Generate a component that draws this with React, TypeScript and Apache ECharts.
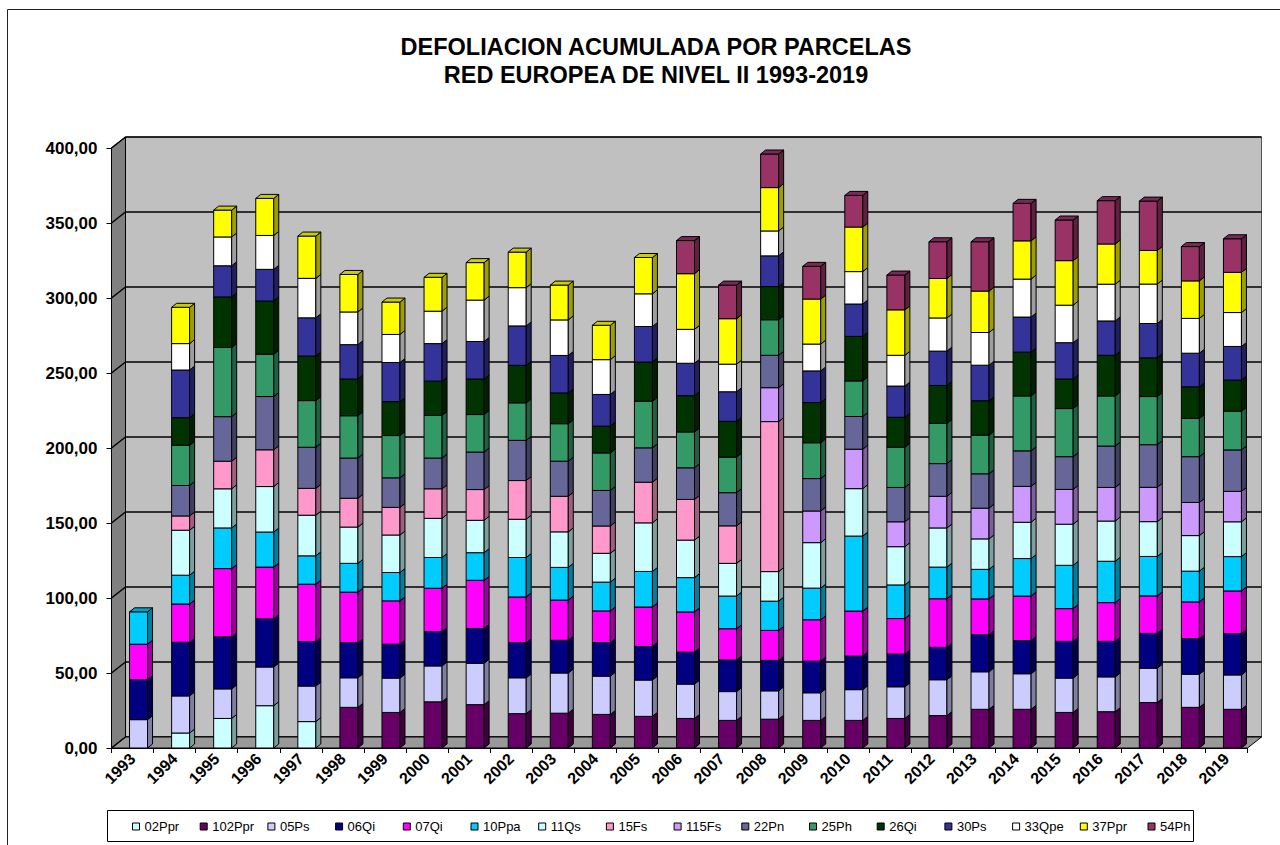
import React, { useEffect, useRef } from "react";
import * as echarts from "echarts";

const YEARS = ["1993","1994","1995","1996","1997","1998","1999","2000","2001","2002","2003","2004","2005","2006","2007","2008","2009","2010","2011","2012","2013","2014","2015","2016","2017","2018","2019"];
const Y_TICKS = [0, 50, 100, 150, 200, 250, 300, 350, 400];

const S_02Ppr = [0, 10.0, 19.7, 28.2, 17.6, 0, 0, 0, 0, 0, 0, 0, 0, 0, 0, 0, 0, 0, 0, 0, 0, 0, 0, 0, 0, 0, 0];
const S_102Ppr = [0, 0, 0, 0, 0, 27.1, 23.7, 30.8, 28.9, 22.9, 23.2, 22.4, 21.1, 19.7, 18.4, 19.2, 18.4, 18.4, 19.7, 21.6, 25.8, 25.8, 23.7, 24.2, 30.3, 27.1, 25.8];
const S_05Ps = [18.9, 24.7, 19.7, 25.8, 23.7, 19.7, 22.9, 23.9, 27.6, 23.9, 26.8, 25.5, 24.2, 22.9, 19.2, 18.9, 18.4, 20.5, 21.1, 23.9, 25.0, 23.7, 22.9, 23.2, 22.9, 22.1, 22.9];
const S_06Qi = [26.6, 35.8, 34.7, 32.1, 29.7, 23.4, 22.6, 22.9, 23.2, 23.4, 21.8, 22.4, 22.4, 21.3, 21.1, 20.3, 21.1, 22.4, 21.8, 21.6, 24.7, 22.1, 24.5, 23.7, 23.2, 23.7, 27.6];
const S_07Qi = [23.7, 25.5, 45.5, 34.5, 38.2, 33.7, 28.9, 28.9, 32.1, 30.5, 26.8, 21.1, 26.3, 26.8, 20.8, 20.0, 27.6, 30.0, 23.7, 32.4, 23.9, 29.7, 21.8, 25.8, 25.0, 24.5, 28.4];
const S_10Ppa = [21.6, 19.2, 27.1, 23.4, 18.9, 19.2, 18.9, 20.5, 18.4, 26.3, 21.8, 19.2, 23.7, 22.9, 21.8, 19.5, 21.1, 50.0, 22.4, 21.1, 19.7, 25.0, 28.9, 27.6, 26.3, 20.5, 22.9];
const S_11Qs = [0, 30.0, 26.1, 30.3, 27.1, 24.2, 25.0, 26.1, 21.6, 25.5, 23.7, 19.2, 32.4, 25.0, 21.8, 19.7, 30.3, 31.6, 25.5, 26.1, 20.3, 24.2, 27.4, 26.8, 23.2, 23.7, 23.2];
const S_15Fs = [0, 9.5, 18.4, 24.5, 17.9, 19.2, 18.4, 19.7, 20.5, 25.8, 23.7, 18.2, 27.1, 27.1, 25.0, 100.0, 0, 0, 0, 0, 0, 0, 0, 0, 0, 0, 0];
const S_115Fs = [0, 0, 0, 0, 0, 0, 0, 0, 0, 0, 0, 0, 0, 0, 0, 22.6, 21.1, 26.3, 16.6, 21.1, 20.5, 23.9, 23.2, 22.4, 22.9, 22.1, 20.3];
const S_22Pn = [0, 20.3, 29.7, 35.5, 27.4, 26.8, 19.7, 20.5, 25.0, 26.8, 23.4, 23.7, 22.9, 21.1, 22.1, 21.6, 21.6, 21.8, 22.9, 21.8, 22.9, 23.7, 21.8, 27.6, 28.4, 30.5, 27.6];
const S_25Ph = [0, 26.8, 46.1, 28.2, 31.1, 28.2, 28.2, 28.4, 25.0, 25.0, 25.0, 25.0, 31.1, 23.9, 23.7, 23.7, 23.9, 23.7, 26.8, 26.8, 25.8, 36.6, 32.1, 33.4, 32.1, 25.5, 25.8];
const S_26Qi = [0, 18.4, 33.7, 35.5, 29.7, 24.5, 22.6, 22.9, 23.7, 25.0, 20.5, 17.9, 26.1, 24.2, 23.9, 22.1, 26.8, 29.7, 20.0, 25.3, 22.9, 29.2, 19.7, 27.1, 25.8, 21.1, 20.8];
const S_30Ps = [0, 31.8, 20.8, 21.1, 25.5, 22.9, 26.1, 25.0, 25.0, 26.3, 25.0, 21.1, 23.7, 21.6, 19.7, 20.5, 21.1, 21.6, 20.8, 22.9, 23.7, 23.4, 24.2, 22.9, 22.9, 22.4, 22.4];
const S_33Qpe = [0, 17.6, 19.2, 22.6, 26.3, 21.8, 18.7, 21.6, 27.6, 25.5, 23.7, 23.2, 21.8, 22.6, 18.4, 16.6, 17.9, 21.6, 20.5, 22.1, 21.8, 25.3, 25.0, 24.5, 26.3, 23.2, 22.6];
const S_37Ppr = [0, 24.2, 17.9, 24.7, 28.2, 25.0, 21.6, 22.6, 25.0, 23.7, 23.2, 22.9, 24.2, 37.1, 30.3, 28.9, 30.0, 29.7, 30.3, 26.3, 27.6, 25.5, 29.7, 26.8, 22.4, 25.0, 26.8];
const S_54Ph = [0, 0, 0, 0, 0, 0, 0, 0, 0, 0, 0, 0, 0, 22.1, 22.4, 22.4, 21.8, 21.1, 23.2, 24.5, 32.9, 25.0, 27.1, 28.9, 32.9, 22.9, 22.4];

const SERIES_NAMES = ["02Ppr", "102Ppr", "05Ps", "06Qi", "07Qi", "10Ppa", "11Qs", "15Fs", "115Fs", "22Pn", "25Ph", "26Qi", "30Ps", "33Qpe", "37Ppr", "54Ph"];
const SERIES_VALUES = [S_02Ppr, S_102Ppr, S_05Ps, S_06Qi, S_07Qi, S_10Ppa, S_11Qs, S_15Fs, S_115Fs, S_22Pn, S_25Ph, S_26Qi, S_30Ps, S_33Qpe, S_37Ppr, S_54Ph];
const SERIES_COLORS = ["#CCFFFF", "#660066", "#CCCCFF", "#000080", "#FF00FF", "#00CCFF", "#CCFFFF", "#FF99CC", "#CC99FF", "#666699", "#339966", "#003300", "#333399", "#FFFFFF", "#FFFF00", "#993366"];

const FONT = "'Liberation Sans', Arial, sans-serif";
const WALL_DX = 14;
const WALL_DY = 11;
const BAR_W = 18;
const BAR_SHIFT = 6;
const SIDE_DX = 5;
const SIDE_DY = 4;
const LEGEND_X0 = 132;
const LEGEND_STEP = 67.7;

function shade(hex: string, f: number): string {
  const n = parseInt(hex.slice(1), 16);
  const r = Math.round(((n >> 16) & 255) * f);
  const g = Math.round(((n >> 8) & 255) * f);
  const b = Math.round((n & 255) * f);
  return `rgb(${r},${g},${b})`;
}

function buildOption() {
  const n = YEARS.length;
  const cum = new Array(n).fill(0);
  const topIdx = new Array(n).fill(-1);
  SERIES_VALUES.forEach((vals, s) => vals.forEach((v, i) => { if (v > 0) topIdx[i] = s; }));

  const barSeries = SERIES_NAMES.map((name, s) => {
    const color = SERIES_COLORS[s];
    const data: number[][] = [];
    SERIES_VALUES[s].forEach((v, i) => {
      if (v > 0) {
        data.push([i, cum[i], cum[i] + v, topIdx[i] === s ? 1 : 0]);
        cum[i] += v;
      }
    });
    const side = shade(color, 0.62);
    const top = shade(color, 0.8);
    return {
      type: "custom",
      name,
      xAxisIndex: 0,
      yAxisIndex: 0,
      z: 3,
      itemStyle: { color, borderColor: "#000", borderWidth: 1 },
      encode: { x: 0, y: [1, 2] },
      data,
      renderItem: (params: any, api: any) => {
        const i = api.value(0);
        const p0 = api.coord([i, api.value(1)]);
        const p1 = api.coord([i, api.value(2)]);
        const isTop = api.value(3) === 1;
        const cx = p0[0] + BAR_SHIFT;
        const x1 = cx - BAR_W / 2;
        const x2 = cx + BAR_W / 2;
        const yb = p0[1];
        const yt = p1[1];
        const children: any[] = [
          { type: "rect", shape: { x: x1, y: yt, width: BAR_W, height: yb - yt }, style: { fill: color, stroke: "#000", lineWidth: 1 } },
          { type: "polygon", shape: { points: [[x2, yb], [x2 + SIDE_DX, yb - SIDE_DY], [x2 + SIDE_DX, yt - SIDE_DY], [x2, yt]] }, style: { fill: side, stroke: "#000", lineWidth: 1 } },
        ];
        if (isTop) {
          children.push({ type: "polygon", shape: { points: [[x1, yt], [x1 + SIDE_DX, yt - SIDE_DY], [x2 + SIDE_DX, yt - SIDE_DY], [x2, yt]] }, style: { fill: top, stroke: "#000", lineWidth: 1 } });
        }
        return { type: "group", children };
      },
    };
  });

  const decorSeries = {
    type: "custom",
    name: "__decor",
    xAxisIndex: 0,
    yAxisIndex: 0,
    z: 1,
    silent: true,
    data: Y_TICKS.map((v) => [0, v]),
    renderItem: (params: any, api: any) => {
      const cs = params.coordSys;
      const left = cs.x;
      const right = cs.x + cs.width;
      const top = cs.y;
      const bottom = cs.y + cs.height;
      const v = api.value(1);
      const y = api.coord([0, v])[1];
      const children: any[] = [];
      if (v === 0) {
        children.push({ type: "polygon", shape: { points: [[left, top], [left + WALL_DX, top - WALL_DY], [left + WALL_DX, bottom - WALL_DY], [left, bottom]] }, style: { fill: "#808080", stroke: "#000", lineWidth: 1 } });
        children.push({ type: "polygon", shape: { points: [[left, bottom], [left + WALL_DX, bottom - WALL_DY], [right + WALL_DX, bottom - WALL_DY], [right, bottom]] }, style: { fill: "#999999", stroke: "#000", lineWidth: 1 } });
      }
      children.push({ type: "line", shape: { x1: left, y1: y, x2: left + WALL_DX, y2: y - WALL_DY }, style: { stroke: "#000", lineWidth: 1.5 } });
      return { type: "group", children };
    },
  };

  const legends = SERIES_NAMES.map((name, k) => ({
    left: LEGEND_X0 + k * LEGEND_STEP,
    top: 820,
    icon: "rect",
    itemWidth: 7,
    itemHeight: 7,
    selectedMode: false,
    data: [name],
    itemStyle: { borderColor: "#000", borderWidth: 1 },
    textStyle: { fontSize: 13, color: "#000", fontFamily: FONT },
    padding: 0,
  }));

  return {
    animation: false,
    backgroundColor: "#fff",
    textStyle: { fontFamily: FONT },
    grid: [
      { left: 111.5, right: 32.5, top: 148, bottom: 97 },
      { left: 111.5 + WALL_DX, right: 32.5 - WALL_DX, top: 148 - WALL_DY, bottom: 97 + WALL_DY, show: true, backgroundColor: "#C0C0C0", borderColor: "#555", borderWidth: 1 },
    ],
    xAxis: [
      {
        type: "category",
        gridIndex: 0,
        data: YEARS,
        z: 4,
        axisLine: { show: true, lineStyle: { color: "#000", width: 1 } },
        axisTick: { show: true, length: 5, lineStyle: { color: "#000" } },
        axisLabel: { rotate: 45, margin: 8, color: "#000", fontSize: 16, fontWeight: "bold", fontFamily: FONT },
      },
      { type: "value", gridIndex: 1, show: false, min: 0, max: 1 },
    ],
    yAxis: [
      {
        type: "value",
        gridIndex: 0,
        min: 0,
        max: 400,
        interval: 50,
        z: 4,
        axisLine: { show: true, lineStyle: { color: "#000", width: 1 } },
        axisTick: { show: true, length: 5, lineStyle: { color: "#000" } },
        splitLine: { show: false },
        axisLabel: { margin: 14, color: "#000", fontSize: 17, fontWeight: "bold", fontFamily: FONT, formatter: (v: number) => v.toFixed(2).replace(".", ",") },
      },
      {
        type: "value",
        gridIndex: 1,
        min: 0,
        max: 400,
        interval: 50,
        axisLine: { show: false },
        axisTick: { show: false },
        axisLabel: { show: false },
        splitLine: { show: true, lineStyle: { color: "#000", width: 1.5 } },
      },
    ],
    legend: legends,
    graphic: [
      { type: "rect", shape: { x: 7.5, y: 9.5, width: 1300, height: 900 }, style: { fill: "none", stroke: "#222", lineWidth: 1 }, silent: true, z: -10 },
      { type: "text", x: 656, y: 47, style: { text: "DEFOLIACION ACUMULADA POR PARCELAS", textAlign: "center", textVerticalAlign: "middle", font: `bold 23.5px ${FONT}`, fill: "#000" } },
      { type: "text", x: 656, y: 75, style: { text: "RED EUROPEA DE NIVEL II 1993-2019", textAlign: "center", textVerticalAlign: "middle", font: `bold 23.5px ${FONT}`, fill: "#000" } },
      { type: "rect", shape: { x: 107.5, y: 810.5, width: 1086, height: 31 }, style: { fill: "none", stroke: "#000", lineWidth: 1 }, silent: true },
    ],
    series: [decorSeries, ...barSeries],
  };
}

export default function App() {
  const ref = useRef<HTMLDivElement>(null);
  useEffect(() => {
    if (!ref.current) return;
    const chart = echarts.init(ref.current, null, { renderer: "svg" });
    chart.setOption(buildOption() as any);
    return () => chart.dispose();
  }, []);
  return <div ref={ref} style={{ position: "absolute", left: 0, top: 0, width: 1280, height: 845 }} />;
}
